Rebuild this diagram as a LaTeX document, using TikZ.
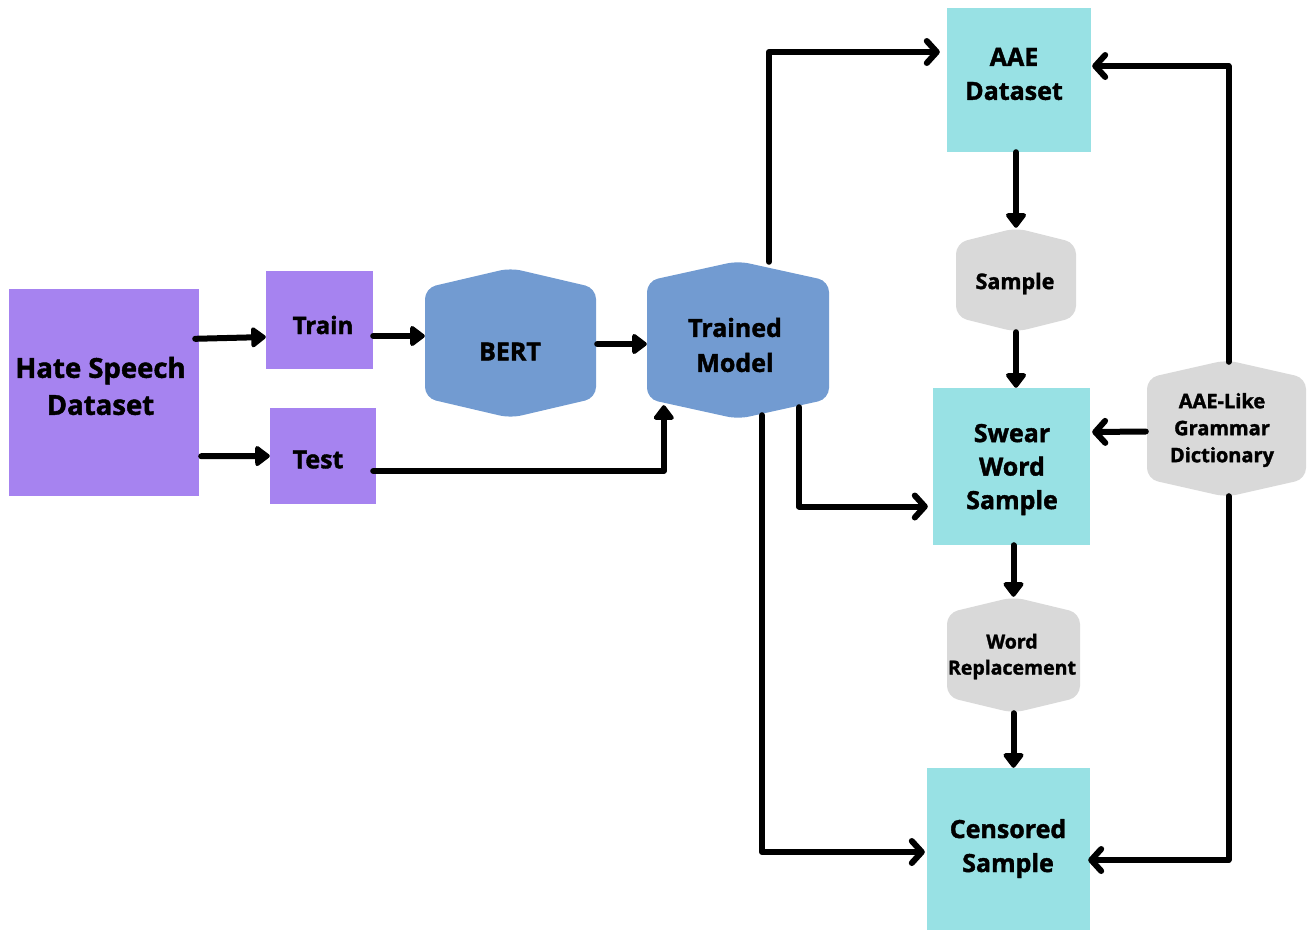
\documentclass[tikz,border=0pt]{standalone}
\usepackage{fontspec}
\setmainfont{Open Sans}[BoldFeatures={FakeBold=1.6}]
\usetikzlibrary{arrows.meta,calc}
\definecolor{cpurple}{HTML}{A683F0}
\definecolor{cblue}{HTML}{729BD1}
\definecolor{ccyan}{HTML}{98E1E4}
\definecolor{cgray}{HTML}{D9D9D9}
\newcommand{\hexfill}[6]{%
  \fill[#6, rounded corners=11pt] (#1,{(#2+#4)/2}) -- (#1,#2+#5) -- ({(#1+#3)/2},#2) -- (#3,#2+#5) -- (#3,#4-#5) -- ({(#1+#3)/2},#4) -- (#1,#4-#5) -- cycle;}
\begin{document}
\begin{tikzpicture}[x=1pt,y=-1pt,
  shp/.style={inner sep=0pt},
  txt/.style={inner sep=0pt, align=center, font=\bfseries\fontsize{25}{34}\selectfont},
  conn/.style={line width=6pt, line cap=round, line join=round},
  farr/.style={conn, -{Triangle[round,length=16pt,width=23pt]}},
  barr/.style={conn, -{Straight Barb[round,length=10pt,width=22pt]}}]
\useasboundingbox (0,0) rectangle (1307,930);
% rectangles
\node[shp, fill=cpurple, minimum width=190, minimum height=207] (hate) at (104,392.5) {};
\node[shp, fill=cpurple, minimum width=107, minimum height=98] (train) at (319.5,320) {};
\node[shp, fill=cpurple, minimum width=106, minimum height=96] (test) at (323,456) {};
\node[shp, fill=ccyan, minimum width=144, minimum height=144] (aae) at (1019,80) {};
\node[shp, fill=ccyan, minimum width=157, minimum height=157] (swear) at (1011.5,466.5) {};
\node[shp, fill=ccyan, minimum width=163, minimum height=162] (cens) at (1008.5,849) {};
% hexagons
\hexfill{425}{268}{596}{418}{20}{cblue}
\hexfill{647}{261}{829}{419}{20}{cblue}
\hexfill{956}{228}{1076}{332}{15}{cgray}
\hexfill{1147}{360}{1306}{497}{18}{cgray}
\hexfill{947}{597}{1080}{713}{16}{cgray}
\node[shp, minimum width=171, minimum height=150] (bert) at (510.5,343) {};
\node[shp, minimum width=182, minimum height=158] (tm) at (738,340) {};
\node[shp, minimum width=120, minimum height=104] (sample) at (1016,280) {};
\node[shp, minimum width=159, minimum height=137] (dict) at (1226.5,428.5) {};
\node[shp, minimum width=133, minimum height=116] (wr) at (1013.5,655) {};
% texts
\node[txt, font=\bfseries\fontsize{27.5}{37}\selectfont] (hateT) at (100.5,386) {Hate Speech\\Dataset};
\node[txt, font=\bfseries\fontsize{24}{34}\selectfont] (trainT) at (323,325) {Train};
\node[txt] (testT) at (318,459.5) {Test};
\node[txt] (aaeT) at (1014,74) {AAE\\Dataset};
\node[txt, font=\bfseries\fontsize{25}{33.5}\selectfont] (swearT) at (1012,469.5) {Swear\\Word\\Sample};
\node[txt] (censT) at (1008,848.5) {Censored\\Sample};
\node[txt] (bertT) at (510,351.5) {BERT};
\node[txt, font=\bfseries\fontsize{25}{35}\selectfont] (tmT) at (735,345) {Trained\\Model};
\node[txt, font=\bfseries\fontsize{21.5}{26}\selectfont] (sampleT) at (1015,283.5) {Sample};
\node[txt, font=\bfseries\fontsize{20}{27}\selectfont] (dictT) at (1222,430) {AAE-Like\\Grammar\\Dictionary};
\node[txt, font=\bfseries\fontsize{19.5}{26}\selectfont] (wrT) at (1012,656.5) {Word\\Replacement};
% connectors
\draw[farr] ($(hate.north east)+(-4,50)$) -- ($(train.west)+(0,17)$);
\draw[farr] ($(hate.south east)+(2,-40)$) -- (test.west);
\draw[farr] ($(train.east)+(0,16)$) -- ($(bert.west)+(0,-7)$);
\draw[farr] ($(bert.east)+(1,1)$) -- ($(tm.west)+(0,4)$);
\draw[farr] ($(test.east)+(-3,15)$) -| ($(tm.south west)+(17,-14)$);
\draw[barr] ($(tm.north)+(31,1)$) |- ($(aae.west)+(-7,-28)$);
\draw[barr] ($(tm.south east)+(-30,-12)$) |- ($(swear.west)+(-5,40)$);
\draw[barr] ($(tm.south)+(24,-4)$) |- ($(cens.west)+(-2,3)$);
\draw[farr] (aae.south -| sample.north) -- (sample.north);
\draw[farr] (sample.south) -- (sample.south |- swear.north);
\draw[farr] (swear.south -| wr.north) -- (wr.north);
\draw[farr] (wr.south) -- (wr.south |- cens.north);
\draw[barr] ($(dict.north)+(2,2)$) |- ($(aae.east)+(1,-14)$);
\draw[barr] ($(dict.west)+(-1,3)$) -- ($(swear.east)+(2,-34.5)$);
\draw[barr] ($(dict.south)+(2,-1)$) |- ($(cens.east)+(-2,11)$);
\end{tikzpicture}
\end{document}
